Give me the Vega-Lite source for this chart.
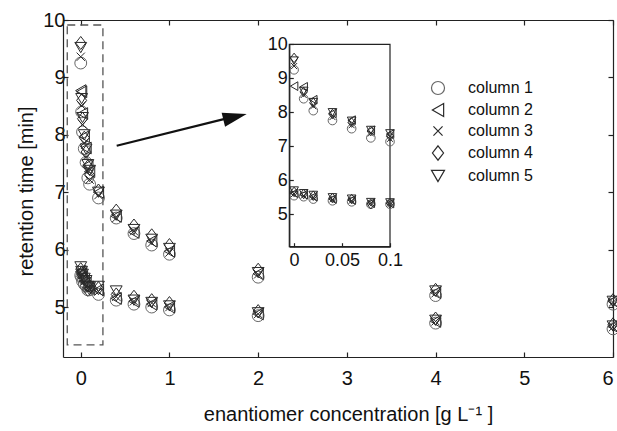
{
  "$schema": "https://vega.github.io/schema/vega-lite/v6.json",
  "width": 550,
  "height": 337,
  "autosize": {"type": "none"},
  "padding": {"left": 63, "top": 20, "right": 4, "bottom": 74},
  "background": "white",
  "config": {
    "view": {"stroke": null},
    "font": "Liberation Sans",
    "axis": {"domainColor": "#222", "tickColor": "#222", "labelColor": "#111", "titleColor": "#111", "grid": false, "labelFont": "Liberation Sans", "titleFont": "Liberation Sans", "titleFontWeight": "normal", "domainWidth": 1.2, "tickWidth": 1.2, "labelFlush": false}
  },
  "datasets": {
    "rt": [
      {"conc": 0, "rt": 9.25, "column": "column 1"}, {"conc": 0, "rt": 8.77, "column": "column 2"}, {"conc": 0, "rt": 9.36, "column": "column 3"}, {"conc": 0, "rt": 9.60, "column": "column 4"}, {"conc": 0, "rt": 9.52, "column": "column 5"},
      {"conc": 0.01, "rt": 8.40, "column": "column 1"}, {"conc": 0.01, "rt": 8.75, "column": "column 2"}, {"conc": 0.01, "rt": 8.51, "column": "column 3"}, {"conc": 0.01, "rt": 8.60, "column": "column 4"}, {"conc": 0.01, "rt": 8.63, "column": "column 5"},
      {"conc": 0.02, "rt": 8.05, "column": "column 1"}, {"conc": 0.02, "rt": 8.37, "column": "column 2"}, {"conc": 0.02, "rt": 8.18, "column": "column 3"}, {"conc": 0.02, "rt": 8.28, "column": "column 4"}, {"conc": 0.02, "rt": 8.30, "column": "column 5"},
      {"conc": 0.04, "rt": 7.76, "column": "column 1"}, {"conc": 0.04, "rt": 7.97, "column": "column 2"}, {"conc": 0.04, "rt": 7.86, "column": "column 3"}, {"conc": 0.04, "rt": 7.95, "column": "column 4"}, {"conc": 0.04, "rt": 8.00, "column": "column 5"},
      {"conc": 0.06, "rt": 7.52, "column": "column 1"}, {"conc": 0.06, "rt": 7.77, "column": "column 2"}, {"conc": 0.06, "rt": 7.62, "column": "column 3"}, {"conc": 0.06, "rt": 7.70, "column": "column 4"}, {"conc": 0.06, "rt": 7.75, "column": "column 5"},
      {"conc": 0.08, "rt": 7.25, "column": "column 1"}, {"conc": 0.08, "rt": 7.47, "column": "column 2"}, {"conc": 0.08, "rt": 7.38, "column": "column 3"}, {"conc": 0.08, "rt": 7.45, "column": "column 4"}, {"conc": 0.08, "rt": 7.48, "column": "column 5"},
      {"conc": 0.1, "rt": 7.14, "column": "column 1"}, {"conc": 0.1, "rt": 7.36, "column": "column 2"}, {"conc": 0.1, "rt": 7.22, "column": "column 3"}, {"conc": 0.1, "rt": 7.30, "column": "column 4"}, {"conc": 0.1, "rt": 7.38, "column": "column 5"},
      {"conc": 0.2, "rt": 6.90, "column": "column 1"}, {"conc": 0.2, "rt": 7.00, "column": "column 2"}, {"conc": 0.2, "rt": 6.95, "column": "column 3"}, {"conc": 0.2, "rt": 7.03, "column": "column 4"}, {"conc": 0.2, "rt": 7.00, "column": "column 5"},
      {"conc": 0.4, "rt": 6.55, "column": "column 1"}, {"conc": 0.4, "rt": 6.58, "column": "column 2"}, {"conc": 0.4, "rt": 6.55, "column": "column 3"}, {"conc": 0.4, "rt": 6.68, "column": "column 4"}, {"conc": 0.4, "rt": 6.60, "column": "column 5"},
      {"conc": 0.6, "rt": 6.28, "column": "column 1"}, {"conc": 0.6, "rt": 6.30, "column": "column 2"}, {"conc": 0.6, "rt": 6.32, "column": "column 3"}, {"conc": 0.6, "rt": 6.42, "column": "column 4"}, {"conc": 0.6, "rt": 6.35, "column": "column 5"},
      {"conc": 0.8, "rt": 6.08, "column": "column 1"}, {"conc": 0.8, "rt": 6.15, "column": "column 2"}, {"conc": 0.8, "rt": 6.12, "column": "column 3"}, {"conc": 0.8, "rt": 6.25, "column": "column 4"}, {"conc": 0.8, "rt": 6.18, "column": "column 5"},
      {"conc": 1, "rt": 5.92, "column": "column 1"}, {"conc": 1, "rt": 5.97, "column": "column 2"}, {"conc": 1, "rt": 5.95, "column": "column 3"}, {"conc": 1, "rt": 6.08, "column": "column 4"}, {"conc": 1, "rt": 6.02, "column": "column 5"},
      {"conc": 2, "rt": 5.52, "column": "column 1"}, {"conc": 2, "rt": 5.58, "column": "column 2"}, {"conc": 2, "rt": 5.57, "column": "column 3"}, {"conc": 2, "rt": 5.65, "column": "column 4"}, {"conc": 2, "rt": 5.60, "column": "column 5"},
      {"conc": 4, "rt": 5.20, "column": "column 1"}, {"conc": 4, "rt": 5.25, "column": "column 2"}, {"conc": 4, "rt": 5.24, "column": "column 3"}, {"conc": 4, "rt": 5.30, "column": "column 4"}, {"conc": 4, "rt": 5.28, "column": "column 5"},
      {"conc": 6, "rt": 5.05, "column": "column 1"}, {"conc": 6, "rt": 5.10, "column": "column 2"}, {"conc": 6, "rt": 5.08, "column": "column 3"}, {"conc": 6, "rt": 5.12, "column": "column 4"}, {"conc": 6, "rt": 5.10, "column": "column 5"},
      {"conc": 0, "rt": 5.55, "column": "column 1"}, {"conc": 0, "rt": 5.62, "column": "column 2"}, {"conc": 0, "rt": 5.60, "column": "column 3"}, {"conc": 0, "rt": 5.66, "column": "column 4"}, {"conc": 0, "rt": 5.70, "column": "column 5"},
      {"conc": 0.01, "rt": 5.52, "column": "column 1"}, {"conc": 0.01, "rt": 5.58, "column": "column 2"}, {"conc": 0.01, "rt": 5.55, "column": "column 3"}, {"conc": 0.01, "rt": 5.60, "column": "column 4"}, {"conc": 0.01, "rt": 5.62, "column": "column 5"},
      {"conc": 0.02, "rt": 5.45, "column": "column 1"}, {"conc": 0.02, "rt": 5.52, "column": "column 2"}, {"conc": 0.02, "rt": 5.50, "column": "column 3"}, {"conc": 0.02, "rt": 5.55, "column": "column 4"}, {"conc": 0.02, "rt": 5.57, "column": "column 5"},
      {"conc": 0.04, "rt": 5.40, "column": "column 1"}, {"conc": 0.04, "rt": 5.45, "column": "column 2"}, {"conc": 0.04, "rt": 5.44, "column": "column 3"}, {"conc": 0.04, "rt": 5.48, "column": "column 4"}, {"conc": 0.04, "rt": 5.50, "column": "column 5"},
      {"conc": 0.06, "rt": 5.37, "column": "column 1"}, {"conc": 0.06, "rt": 5.42, "column": "column 2"}, {"conc": 0.06, "rt": 5.40, "column": "column 3"}, {"conc": 0.06, "rt": 5.45, "column": "column 4"}, {"conc": 0.06, "rt": 5.46, "column": "column 5"},
      {"conc": 0.08, "rt": 5.30, "column": "column 1"}, {"conc": 0.08, "rt": 5.33, "column": "column 2"}, {"conc": 0.08, "rt": 5.33, "column": "column 3"}, {"conc": 0.08, "rt": 5.30, "column": "column 4"}, {"conc": 0.08, "rt": 5.36, "column": "column 5"},
      {"conc": 0.1, "rt": 5.30, "column": "column 1"}, {"conc": 0.1, "rt": 5.32, "column": "column 2"}, {"conc": 0.1, "rt": 5.32, "column": "column 3"}, {"conc": 0.1, "rt": 5.33, "column": "column 4"}, {"conc": 0.1, "rt": 5.35, "column": "column 5"},
      {"conc": 0.2, "rt": 5.22, "column": "column 1"}, {"conc": 0.2, "rt": 5.30, "column": "column 2"}, {"conc": 0.2, "rt": 5.27, "column": "column 3"}, {"conc": 0.2, "rt": 5.33, "column": "column 4"}, {"conc": 0.2, "rt": 5.36, "column": "column 5"},
      {"conc": 0.4, "rt": 5.12, "column": "column 1"}, {"conc": 0.4, "rt": 5.15, "column": "column 2"}, {"conc": 0.4, "rt": 5.18, "column": "column 3"}, {"conc": 0.4, "rt": 5.22, "column": "column 4"}, {"conc": 0.4, "rt": 5.28, "column": "column 5"},
      {"conc": 0.6, "rt": 5.05, "column": "column 1"}, {"conc": 0.6, "rt": 5.10, "column": "column 2"}, {"conc": 0.6, "rt": 5.10, "column": "column 3"}, {"conc": 0.6, "rt": 5.18, "column": "column 4"}, {"conc": 0.6, "rt": 5.12, "column": "column 5"},
      {"conc": 0.8, "rt": 5.00, "column": "column 1"}, {"conc": 0.8, "rt": 5.05, "column": "column 2"}, {"conc": 0.8, "rt": 5.07, "column": "column 3"}, {"conc": 0.8, "rt": 5.12, "column": "column 4"}, {"conc": 0.8, "rt": 5.08, "column": "column 5"},
      {"conc": 1, "rt": 4.95, "column": "column 1"}, {"conc": 1, "rt": 5.00, "column": "column 2"}, {"conc": 1, "rt": 5.00, "column": "column 3"}, {"conc": 1, "rt": 5.07, "column": "column 4"}, {"conc": 1, "rt": 5.02, "column": "column 5"},
      {"conc": 2, "rt": 4.85, "column": "column 1"}, {"conc": 2, "rt": 4.88, "column": "column 2"}, {"conc": 2, "rt": 4.88, "column": "column 3"}, {"conc": 2, "rt": 4.93, "column": "column 4"}, {"conc": 2, "rt": 4.90, "column": "column 5"},
      {"conc": 4, "rt": 4.72, "column": "column 1"}, {"conc": 4, "rt": 4.75, "column": "column 2"}, {"conc": 4, "rt": 4.75, "column": "column 3"}, {"conc": 4, "rt": 4.80, "column": "column 4"}, {"conc": 4, "rt": 4.77, "column": "column 5"},
      {"conc": 6, "rt": 4.62, "column": "column 1"}, {"conc": 6, "rt": 4.66, "column": "column 2"}, {"conc": 6, "rt": 4.65, "column": "column 3"}, {"conc": 6, "rt": 4.70, "column": "column 4"}, {"conc": 6, "rt": 4.67, "column": "column 5"}
    ],
    "box": [{"x1": -0.152, "x2": 0.25, "y1": 4.34, "y2": 9.913}],
    "arrow": [{"x1": 0.405, "y1": 7.81, "x2": 1.76, "y2": 8.33}],
    "head": [{"x": 1.739, "y": 8.314}],
    "insetframe": [{"x1": -0.005, "x2": 0.1, "y1": 4.05, "y2": 10}]
  },
  "layer": [
    {
      "data": {"name": "box"},
      "mark": {"type": "rect", "filled": false, "stroke": "#555", "strokeDash": [8, 5], "strokeWidth": 1.3},
      "encoding": {
        "x": {"field": "x1", "type": "quantitative", "scale": {"domain": [-0.2, 6], "nice": false, "zero": false}, "axis": {"orient": "top", "labels": false, "values": [0, 1, 2, 3, 4, 5, 6], "tickSize": -5, "title": null}},
        "x2": {"field": "x2"},
        "y": {"field": "y1", "type": "quantitative", "scale": {"domain": [4.13, 10], "nice": false, "zero": false}, "axis": {"orient": "right", "labels": false, "values": [5, 6, 7, 8, 9, 10], "tickSize": -5, "title": null}},
        "y2": {"field": "y2"}
      }
    },
    {
      "data": {"name": "rt"},
      "mark": {"type": "point", "filled": false, "size": 140, "strokeWidth": 1, "opacity": 1},
      "encoding": {
        "x": {"field": "conc", "type": "quantitative", "scale": {"domain": [-0.2, 6], "nice": false, "zero": false},
          "axis": {"orient": "bottom", "values": [0, 1, 2, 3, 4, 5, 6], "format": "~g", "labelFlush": true, "tickSize": -5, "labelFontSize": 20, "labelPadding": 16, "title": "enantiomer concentration [g L⁻¹ ]", "titleFontSize": 20, "titleX": 285, "titleY": 63, "titleBaseline": "alphabetic", "titleAlign": "center"}},
        "y": {"field": "rt", "type": "quantitative", "scale": {"domain": [4.13, 10], "nice": false, "zero": false},
          "axis": {"orient": "left", "values": [5, 6, 7, 8, 9, 10], "tickSize": -5, "labelFontSize": 20, "labelPadding": 3, "title": "retention time [min]", "titleFontSize": 20, "titleX": -31, "titleY": 171, "titleBaseline": "alphabetic", "titleAlign": "center"}},
        "shape": {"field": "column", "type": "nominal", "scale": {"range": ["circle", "triangle-left", "M-0.7,-0.7L0.7,0.7M-0.7,0.7L0.7,-0.7", "M0,-1.1L0.85,0L0,1.1L-0.85,0Z", "triangle-down"]},
          "legend": {"title": null, "orient": "none", "legendX": 367, "legendY": 60, "symbolSize": 170, "symbolStrokeWidth": 1.2, "labelFontSize": 16, "labelFont": "Liberation Sans", "labelColor": "#111", "labelOffset": 22, "rowPadding": 4, "padding": 0}},
        "color": {"field": "column", "type": "nominal", "scale": {"range": ["#666666", "#2a2a2a", "#2a2a2a", "#2a2a2a", "#2a2a2a"]},
          "legend": {"title": null, "orient": "none", "legendX": 367, "legendY": 60, "symbolSize": 170, "symbolStrokeWidth": 1.2, "labelFontSize": 16, "labelFont": "Liberation Sans", "labelColor": "#111", "labelOffset": 22, "rowPadding": 4, "padding": 0}}
      }
    },
    {
      "data": {"name": "arrow"},
      "mark": {"type": "rule", "strokeWidth": 2.2, "color": "#111"},
      "encoding": {
        "x": {"field": "x1", "type": "quantitative", "scale": {"domain": [-0.2, 6], "nice": false, "zero": false}, "axis": null},
        "y": {"field": "y1", "type": "quantitative", "scale": {"domain": [4.13, 10], "nice": false, "zero": false}, "axis": null},
        "x2": {"field": "x2"},
        "y2": {"field": "y2"}
      }
    },
    {
      "data": {"name": "head"},
      "mark": {"type": "point", "shape": "M1,0L-1,-0.6L-1,0.6Z", "size": 576, "filled": true, "color": "#111", "opacity": 1, "angle": -13.7},
      "encoding": {
        "x": {"field": "x", "type": "quantitative", "scale": {"domain": [-0.2, 6], "nice": false, "zero": false}, "axis": null},
        "y": {"field": "y", "type": "quantitative", "scale": {"domain": [4.13, 10], "nice": false, "zero": false}, "axis": null}
      }
    },
    {
      "data": {"name": "insetframe"},
      "mark": {"type": "rect", "filled": false, "stroke": "#222", "strokeWidth": 1.2},
      "encoding": {
        "x": {"field": "x1", "type": "quantitative", "scale": {"domain": [-0.005, 0.1], "range": [226.3, 327], "nice": false, "zero": false}, "axis": null},
        "x2": {"field": "x2"},
        "y": {"field": "y1", "type": "quantitative", "scale": {"domain": [4.05, 10], "range": [226.7, 24.3], "nice": false, "zero": false}, "axis": null},
        "y2": {"field": "y2"}
      }
    },
    {
      "data": {"name": "rt"},
      "transform": [{"filter": "datum.conc <= 0.1"}],
      "mark": {"type": "point", "filled": false, "size": 75, "strokeWidth": 1, "opacity": 1},
      "encoding": {
        "x": {"field": "conc", "type": "quantitative", "scale": {"domain": [-0.005, 0.1], "range": [226.3, 327], "nice": false, "zero": false},
          "axis": {"orient": "bottom", "offset": -110.3, "values": [0, 0.05, 0.1], "format": "~g", "tickSize": -4, "labelFontSize": 18, "labelPadding": 9, "title": null, "zindex": 2}},
        "y": {"field": "rt", "type": "quantitative", "scale": {"domain": [4.05, 10], "range": [226.7, 24.3], "nice": false, "zero": false},
          "axis": {"orient": "left", "offset": -226.3, "values": [5, 6, 7, 8, 9, 10], "tickSize": -4, "labelFontSize": 18, "labelPadding": 6, "title": null, "zindex": 2}},
        "shape": {"field": "column", "type": "nominal", "scale": {"range": ["circle", "triangle-left", "M-0.7,-0.7L0.7,0.7M-0.7,0.7L0.7,-0.7", "M0,-1.1L0.85,0L0,1.1L-0.85,0Z", "triangle-down"]},
          "legend": {"title": null, "orient": "none", "legendX": 367, "legendY": 60, "symbolSize": 170, "symbolStrokeWidth": 1.2, "labelFontSize": 16, "labelFont": "Liberation Sans", "labelColor": "#111", "labelOffset": 22, "rowPadding": 4, "padding": 0}},
        "color": {"field": "column", "type": "nominal", "scale": {"range": ["#666666", "#2a2a2a", "#2a2a2a", "#2a2a2a", "#2a2a2a"]},
          "legend": {"title": null, "orient": "none", "legendX": 367, "legendY": 60, "symbolSize": 170, "symbolStrokeWidth": 1.2, "labelFontSize": 16, "labelFont": "Liberation Sans", "labelColor": "#111", "labelOffset": 22, "rowPadding": 4, "padding": 0}}
      }
    }
  ],
  "resolve": {"scale": {"x": "independent", "y": "independent"}}
}
